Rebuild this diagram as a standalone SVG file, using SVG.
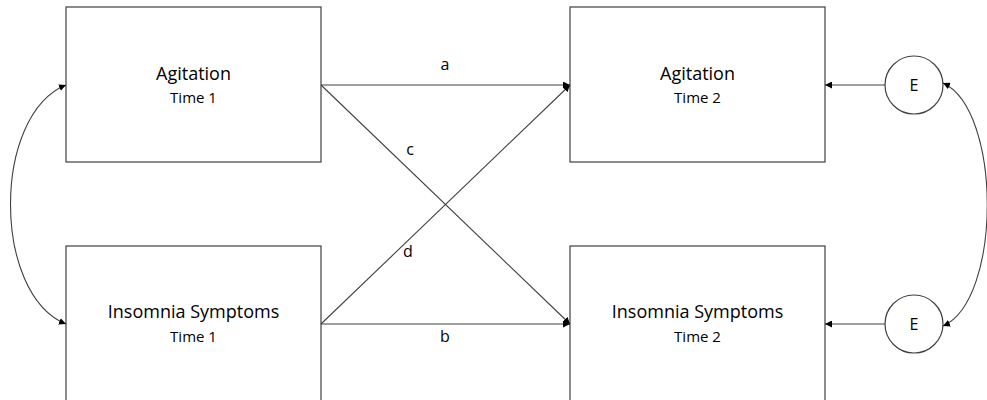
<svg xmlns="http://www.w3.org/2000/svg" width="987" height="400" viewBox="0 0 987 400">
<style>
.box{fill:#fff;stroke:#404040;stroke-width:1.2}
.t1{font-family:"Open Sans","Liberation Sans",sans-serif;font-size:18px;fill:#000;text-anchor:middle}
.t2{font-family:"Open Sans","Liberation Sans",sans-serif;font-size:15px;fill:#000;text-anchor:middle}
.lbl{font-family:"Open Sans","Liberation Sans",sans-serif;font-size:16px;fill:#000;text-anchor:middle}
.ln{fill:none;stroke:#404040;stroke-width:1.1}
</style>
<defs>
<marker id="ah" viewBox="0 0 10 10" refX="10" refY="5" markerWidth="7" markerHeight="7" markerUnits="userSpaceOnUse" orient="auto-start-reverse">
<path d="M0,0 L10,5 L0,10 z" fill="#000"/>
</marker>
</defs>
<rect width="987" height="400" fill="#fff"/>
<g id="agit1"><rect class="box" x="66" y="7" width="255" height="155"/><text class="t1" x="193.5" y="80">Agitation</text><text class="t2" x="193.5" y="103">Time 1</text></g>
<g id="ins1"><rect class="box" x="66" y="246" width="255" height="160"/><text class="t1" x="193.5" y="318">Insomnia Symptoms</text><text class="t2" x="193.5" y="342">Time 1</text></g>
<g id="agit2"><rect class="box" x="570" y="7" width="255" height="155"/><text class="t1" x="697.5" y="80">Agitation</text><text class="t2" x="697.5" y="103">Time 2</text></g>
<g id="ins2"><rect class="box" x="570" y="246" width="255" height="160"/><text class="t1" x="697.5" y="318">Insomnia Symptoms</text><text class="t2" x="697.5" y="342">Time 2</text></g>
<g id="e1"><circle class="box" cx="914" cy="85" r="29"/><text class="lbl" x="914" y="91">E</text></g>
<g id="e2"><circle class="box" cx="914" cy="324" r="29"/><text class="lbl" x="914" y="330">E</text></g>
<g id="connectors">
<line class="ln" x1="321" y1="85" x2="570" y2="85" marker-end="url(#ah)"/>
<line class="ln" x1="321" y1="324" x2="570" y2="324" marker-end="url(#ah)"/>
<line class="ln" x1="321" y1="85" x2="570" y2="324" marker-end="url(#ah)"/>
<line class="ln" x1="321" y1="324" x2="570" y2="85" marker-end="url(#ah)"/>
<line class="ln" x1="885" y1="85" x2="825" y2="85" marker-end="url(#ah)"/>
<line class="ln" x1="885" y1="324" x2="825" y2="324" marker-end="url(#ah)"/>
<path class="ln" d="M66,85 C-8,115 -8,294 66,324" marker-start="url(#ah)" marker-end="url(#ah)"/>
<path class="ln" d="M943,83 C1002,110 1002,300 943,326" marker-start="url(#ah)" marker-end="url(#ah)"/>
<text class="lbl" x="445" y="70">a</text>
<text class="lbl" x="410" y="155">c</text>
<text class="lbl" x="408" y="257">d</text>
<text class="lbl" x="445" y="342">b</text>
</g>
</svg>
